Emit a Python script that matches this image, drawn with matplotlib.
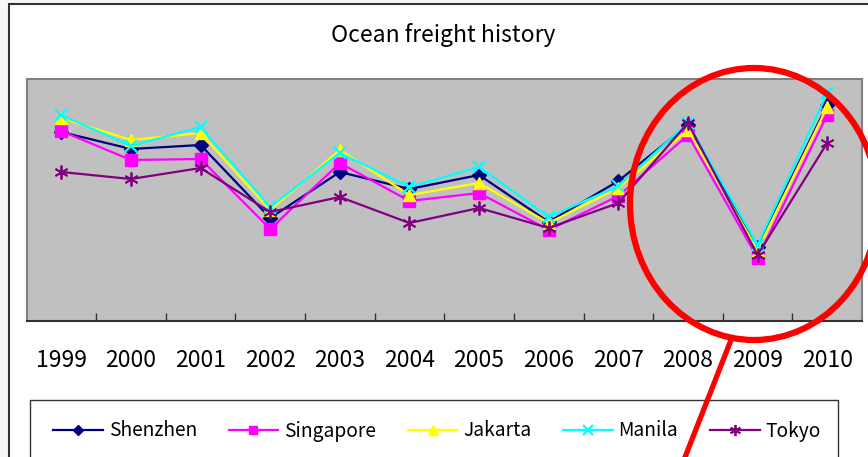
import matplotlib
matplotlib.use("Agg")
import matplotlib.pyplot as plt
from matplotlib.patches import Rectangle, Ellipse
from matplotlib.lines import Line2D

plt.rcParams['font.family'] = ['Noto Sans CJK JP', 'DejaVu Sans']

years = ['1999', '2000', '2001', '2002', '2003', '2004',
         '2005', '2006', '2007', '2008', '2009', '2010']

# freight index (no scale shown on the original chart)
shenzhen = [189, 172, 176, 103, 149, 132, 146, 99, 140, 196, 74, 216]
singapore = [190, 161, 162, 92, 158, 120, 128, 91, 125, 186, 63, 206]
jakarta = [203, 181, 188, 111, 171, 126, 138, 98, 133, 191, 71, 214]
manila = [206, 175, 194, 114, 168, 134, 154, 104, 135, 198, 76, 228]
tokyo = [149, 142, 153, 109, 124, 98, 113, 93, 118, 198, 66, 178]

W, H = 868, 457


def px(x, y):
    # pixel position (top-left origin) -> figure fraction
    return x / W, 1 - y / H


fig = plt.figure(figsize=(W / 100, H / 100), dpi=100)
fig.patch.set_facecolor('#f7f7f7')

# chart area border
x0, y0 = px(8.5, 4)
fig.add_artist(Rectangle((x0, -0.1), 1.2, y0 + 0.1, transform=fig.transFigure,
                         facecolor='white', edgecolor='#333333', linewidth=1.5, zorder=-2))

l, t = px(26.5, 79)
r, b = px(862, 321)
ax = fig.add_axes([l, b, r - l, t - b])
ax.set_facecolor('#c0c0c0')

xs = list(range(len(years)))
ax.plot(xs, shenzhen, color='#000080', marker='D', markersize=7, lw=1.6, label='Shenzhen')
ax.plot(xs, singapore, color='#ff00ff', marker='s', markersize=8, lw=1.6, label='Singapore')
ax.plot(xs, jakarta, color='#ffff00', marker='^', markersize=9, lw=1.6, label='Jakarta')
ax.plot(xs, manila, color='#00ffff', marker='x', markersize=9, mew=1.6, lw=1.6, label='Manila')
ax.plot(xs, tokyo, color='#800080', marker=(6, 2, 0), markersize=10, mew=1.3, lw=1.6, label='Tokyo')

ax.set_xlim(-0.5, len(years) - 0.5)
ax.set_ylim(0, 242)
ax.set_yticks([])
ax.set_xticks([i + 0.5 for i in range(len(years) - 1)])
ax.set_xticklabels([])
ax.tick_params(axis='x', which='major', direction='in', length=6, width=1, color='#333333')
ax.set_xticks(xs, minor=True)
ax.set_xticklabels(years, minor=True, fontsize=16.5)
ax.tick_params(axis='x', which='minor', length=0, pad=20)

for s in ['left', 'top', 'right']:
    ax.spines[s].set_color('#808080')
    ax.spines[s].set_linewidth(1.5)
ax.spines['bottom'].set_color('#333333')
ax.spines['bottom'].set_linewidth(1.5)

fig.text(*px(443, 35), 'Ocean freight history', ha='center', va='center', fontsize=16.5)

# legend box
lx, ly = px(30, 400)
fig.add_artist(Rectangle((lx, -0.1), 808 / W, ly + 0.1, transform=fig.transFigure,
                         facecolor='white', edgecolor='#333333', linewidth=1, zorder=1))
handles, labels = ax.get_legend_handles_labels()
leg = fig.legend(handles, labels, loc='center', bbox_to_anchor=px(437, 431), ncol=5,
                 frameon=False, fontsize=13.8, handlelength=2.6, handletextpad=0.3,
                 columnspacing=1.65, markerscale=0.8)
leg.set_zorder(2)

# red annotation
fig.add_artist(Ellipse(px(754, 204), 248 / W, 272 / H, transform=fig.transFigure,
                       fill=False, edgecolor='red', linewidth=4.5, zorder=3))
fig.add_artist(Line2D([px(731, 340)[0], px(680, 470)[0]], [px(731, 340)[1], px(680, 470)[1]],
                      transform=fig.transFigure, color='red', linewidth=3.8, zorder=3))

fig.savefig('out.png', dpi=100, facecolor=fig.get_facecolor())
